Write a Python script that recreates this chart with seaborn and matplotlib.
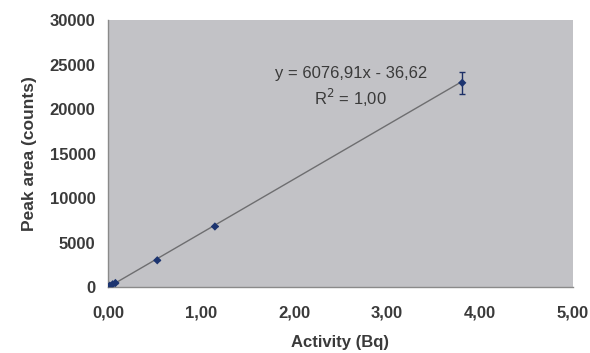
import numpy as np
import matplotlib.pyplot as plt
import seaborn as sns

# calibration points
activity = [0.02, 0.05, 0.08, 0.53, 1.15, 3.81]
peak_area = [150, 300, 450, 3000, 6800, 22950]
peak_err = [0, 0, 0, 0, 0, 1250]

slope, intercept = 6076.91, -36.62

x_ticks = [0, 1, 2, 3, 4, 5]
x_labels = ["0,00", "1,00", "2,00", "3,00", "4,00", "5,00"]
y_ticks = [0, 5000, 10000, 15000, 20000, 25000, 30000]

sns.set_theme(style="white")
plt.rcParams["font.family"] = ["Liberation Sans", "DejaVu Sans"]

TXT = "#3a3a3a"
fig, ax = plt.subplots(figsize=(5.9, 3.53), dpi=100)
fig.subplots_adjust(left=0.183, right=0.971, top=0.943, bottom=0.187)
ax.set_facecolor("#c2c2c6")

xfit = np.array([min(activity), max(activity)])
ax.plot(xfit, slope * xfit + intercept, color="#6e6e70", lw=1.0, zorder=2)
ax.errorbar(activity, peak_area, yerr=peak_err, fmt="none", ecolor="#1c2f66",
            elinewidth=1.0, capsize=2.5, capthick=1.0, zorder=3)
sns.scatterplot(x=activity, y=peak_area, ax=ax, color="#1c3470", s=18,
                marker="D", edgecolor="none", zorder=4)

ax.set_xlim(0, 5)
ax.set_ylim(0, 30000)
ax.set_xticks(x_ticks)
ax.set_xticklabels(x_labels)
ax.set_yticks(y_ticks)
for s in ["top", "right"]:
    ax.spines[s].set_visible(False)
for s in ["left", "bottom"]:
    ax.spines[s].set_color("#8a8a8a")
    ax.spines[s].set_linewidth(1.0)
ax.tick_params(axis="both", length=4, width=1, color="#8a8a8a", direction="out",
               labelsize=12, labelcolor=TXT, pad=5)
ax.tick_params(axis="x", pad=9)
for lab in ax.get_xticklabels() + ax.get_yticklabels():
    lab.set_fontweight("bold")

ax.set_xlabel("Activity (Bq)", fontsize=12, fontweight="bold", color=TXT, labelpad=11)
ax.set_ylabel("Peak area (counts)", fontsize=12.5, fontweight="bold", color=TXT, labelpad=9)

ax.text(2.61, 24050, "y = 6076,91x - 36,62", fontsize=12, color=TXT,
        ha="center", va="center")
ax.text(2.61, 21250, "R$^2$ = 1,00", fontsize=12, color=TXT,
        ha="center", va="center")

plt.savefig("out.png", dpi=100)
